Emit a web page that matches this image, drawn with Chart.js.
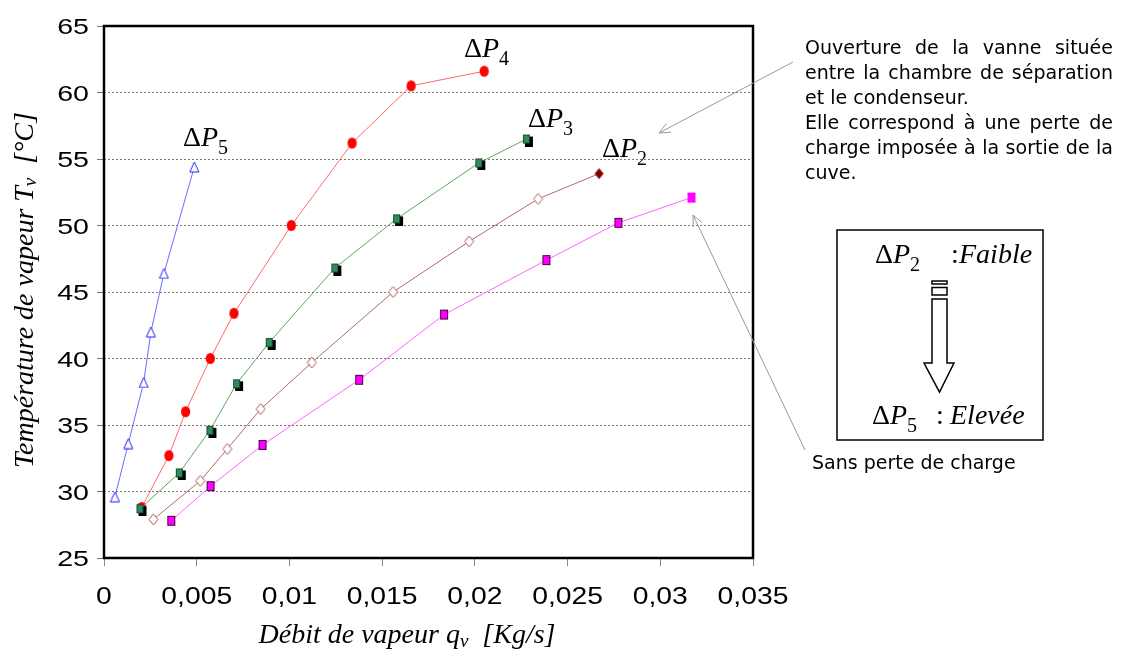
<!DOCTYPE html>
<html>
<head>
<meta charset="utf-8">
<script src="https://cdn.jsdelivr.net/npm/chart.js@4/dist/chart.umd.min.js"></script>
<style>
  html, body { margin: 0; padding: 0; background: #fff; }
  canvas { display: block; }
</style>
</head>
<body>
<canvas id="graphique" width="1128" height="659"></canvas>
<script>
// === DONNÉES ===
const xTicks = [0, 0.005, 0.01, 0.015, 0.02, 0.025, 0.03, 0.035];
const yTicks = [25, 30, 35, 40, 45, 50, 55, 60, 65];

// ΔP5 (triangles bleus)
const dp5X = [0.00059, 0.00131, 0.00214, 0.00253, 0.00323, 0.00487];
const dp5Y = [29.6, 33.6, 38.2, 42.0, 46.4, 54.4];
// ΔP4 (ronds rouges)
const dp4X = [0.00203, 0.0035, 0.0044, 0.00573, 0.00701, 0.0101, 0.01338, 0.01656, 0.0205];
const dp4Y = [28.8, 32.7, 36.0, 40.0, 43.4, 50.0, 56.2, 60.5, 61.6];
// ΔP3 (carrés verts)
const dp3X = [0.00194, 0.00406, 0.00571, 0.00715, 0.00891, 0.01245, 0.01578, 0.02021, 0.02278];
const dp3Y = [28.7, 31.4, 34.6, 38.1, 41.2, 46.8, 50.5, 54.7, 56.5];
// ΔP2 (losanges)
const dp2X = [0.00266, 0.00519, 0.00665, 0.00845, 0.01121, 0.01559, 0.01969, 0.02341, 0.0267];
const dp2Y = [27.9, 30.8, 33.2, 36.2, 39.7, 45.0, 48.8, 52.0, 53.9];
// sans perte de charge (carrés magenta)
const sansX = [0.00363, 0.00575, 0.00855, 0.01376, 0.01834, 0.02386, 0.02774, 0.03168];
const sansY = [27.8, 30.4, 33.5, 38.4, 43.3, 47.4, 50.2, 52.1];

const points = (xs, ys) => xs.map((x, i) => ({ x: x, y: ys[i] }));

// === MARQUEURS (petits canvas) ===
function marqueur(w, h, dessin) {
  const c = document.createElement('canvas');
  c.width = w; c.height = h;
  dessin(c.getContext('2d'));
  return c;
}
const triBleu = marqueur(11, 12, g => {
  g.beginPath(); g.moveTo(5.5, 1); g.lineTo(10, 11); g.lineTo(1, 11); g.closePath();
  g.fillStyle = '#fff'; g.fill(); g.strokeStyle = '#2020ff'; g.lineWidth = 1; g.stroke();
});
const rondRouge = marqueur(11, 13, g => {
  g.beginPath(); g.ellipse(5.5, 6.5, 4.6, 5.6, 0, 0, 2 * Math.PI);
  g.fillStyle = '#ff0000'; g.fill();
});
const carreVert = marqueur(15, 15, g => {
  g.fillStyle = '#000'; g.fillRect(6, 5, 8, 10);
  g.fillStyle = '#2e8b5c'; g.fillRect(4, 3, 7, 9);
  g.strokeStyle = '#1b4a33'; g.lineWidth = 1; g.strokeRect(4.5, 3.5, 6, 8);
});
const losangeVide = marqueur(11, 13, g => {
  g.beginPath(); g.moveTo(5.5, 1); g.lineTo(10, 6.5); g.lineTo(5.5, 12); g.lineTo(1, 6.5); g.closePath();
  g.fillStyle = '#fff'; g.fill(); g.strokeStyle = '#a85a5a'; g.lineWidth = 1; g.stroke();
});
const losangePlein = marqueur(11, 13, g => {
  g.beginPath(); g.moveTo(5.5, 1); g.lineTo(10, 6.5); g.lineTo(5.5, 12); g.lineTo(1, 6.5); g.closePath();
  g.fillStyle = '#800000'; g.fill();
});
const carreMagenta = marqueur(10, 12, g => {
  g.fillStyle = '#ff00ff'; g.fillRect(1, 1, 8, 10);
  g.strokeStyle = '#4a004a'; g.lineWidth = 1; g.strokeRect(1.5, 1.5, 7, 9);
});
const carreMagentaClair = marqueur(10, 12, g => {
  g.fillStyle = '#ff00ff'; g.fillRect(1, 1, 8, 10);
});

// === OUTILS DE TEXTE ===
const serif = '"Liberation Serif", "Times New Roman", serif';

// dessine une suite de morceaux {t, f, dy} à partir de x
function morceaux(ctx, liste, x, y) {
  let cx = x;
  liste.forEach(m => {
    ctx.font = m.f;
    ctx.fillText(m.t, cx, y + (m.dy || 0));
    cx += ctx.measureText(m.t).width;
  });
  return cx;
}
function largeurMorceaux(ctx, liste) {
  return liste.reduce((s, m) => { ctx.font = m.f; return s + ctx.measureText(m.t).width; }, 0);
}
function texteEtire(ctx, txt, x, y, k) {
  ctx.save();
  ctx.translate(x, y);
  ctx.scale(k, 1);
  ctx.fillText(txt, 0, 0);
  ctx.restore();
}
function ligneJustifiee(ctx, txt, x, y, largeur) {
  const mots = txt.split(' ');
  const total = mots.reduce((s, m) => s + ctx.measureText(m).width, 0);
  const esp = (largeur - total) / (mots.length - 1);
  let cx = x;
  mots.forEach(m => { ctx.fillText(m, cx, y); cx += ctx.measureText(m).width + esp; });
}
function fleche(ctx, x1, y1, x2, y2) {
  const a = Math.atan2(y2 - y1, x2 - x1);
  ctx.beginPath();
  ctx.moveTo(x1, y1); ctx.lineTo(x2, y2);
  ctx.moveTo(x2 - 12 * Math.cos(a - 0.42), y2 - 12 * Math.sin(a - 0.42));
  ctx.lineTo(x2, y2);
  ctx.lineTo(x2 - 12 * Math.cos(a + 0.42), y2 - 12 * Math.sin(a + 0.42));
  ctx.stroke();
}
function deltaP(ctx, n, x, y) {
  return morceaux(ctx, [
    { t: 'Δ', f: '28px ' + serif },
    { t: 'P', f: 'italic 28px ' + serif },
    { t: n, f: '20px ' + serif, dy: 8 }
  ], x, y);
}
const formatX = v => v === 0 ? '0' : String(+v.toFixed(3)).replace('.', ',');

// === CADRE DU GRAPHIQUE ===
const cadre = {
  id: 'cadre',
  beforeDatasetsDraw(chart) {
    const { ctx, chartArea: a } = chart;
    ctx.save();
    ctx.strokeStyle = '#000';
    ctx.lineWidth = 2.5;
    ctx.strokeRect(a.left, a.top, a.right - a.left, a.bottom - a.top);
    ctx.restore();
  }
};

// === ÉTIQUETTES, TITRES ET ANNOTATIONS ===
const annotations = {
  id: 'annotations',
  afterDraw(chart) {
    const ctx = chart.ctx;
    const sx = chart.scales.x, sy = chart.scales.y;
    ctx.save();
    ctx.fillStyle = '#000';

    // graduations
    ctx.font = '24px "Liberation Sans", Arial, sans-serif';
    ctx.textAlign = 'center';
    sx.ticks.forEach(t => texteEtire(ctx, formatX(t.value), sx.getPixelForValue(t.value), 604, 1.18));
    ctx.font = '22px "Liberation Sans", Arial, sans-serif';
    ctx.textAlign = 'right';
    sy.ticks.forEach(t => texteEtire(ctx, String(t.value), 89, sy.getPixelForValue(t.value) + 8, 1.3));
    ctx.textAlign = 'left';

    // titre axe x
    const titreX = [
      { t: 'Débit de vapeur ', f: 'italic 28px ' + serif },
      { t: 'q', f: 'italic 28px ' + serif },
      { t: 'v', f: 'italic 19px ' + serif, dy: 4 },
      { t: '  [Kg/s]', f: 'italic 28px ' + serif }
    ];
    morceaux(ctx, titreX, 407 - largeurMorceaux(ctx, titreX) / 2, 643);

    // titre axe y
    const titreY = [
      { t: 'Température de vapeur ', f: 'italic 28px ' + serif },
      { t: 'T', f: 'italic 28px ' + serif },
      { t: 'v', f: 'italic 19px ' + serif, dy: 3 },
      { t: '  [°C]', f: 'italic 28px ' + serif }
    ];
    ctx.save();
    ctx.translate(33, 290);
    ctx.rotate(-Math.PI / 2);
    morceaux(ctx, titreY, -largeurMorceaux(ctx, titreY) / 2, 0);
    ctx.restore();

    // noms des courbes
    deltaP(ctx, '5', 183, 146);
    deltaP(ctx, '4', 464, 57);
    deltaP(ctx, '3', 528, 127);
    deltaP(ctx, '2', 602, 157);

    // texte explicatif
    ctx.font = '19px "DejaVu Sans", Verdana, sans-serif';
    const lignes = [
      ['Ouverture de la vanne située', true],
      ['entre la chambre de séparation', true],
      ['et le condenseur.', false],
      ['Elle correspond à une perte de', true],
      ['charge imposée à la sortie de la', true],
      ['cuve.', false]
    ];
    lignes.forEach((l, i) => {
      const y = 54 + 25 * i;
      if (l[1]) ligneJustifiee(ctx, l[0], 805, y, 308);
      else ctx.fillText(l[0], 805, y);
    });
    ctx.fillText('Sans perte de charge', 812, 469);

    // flèches grises
    ctx.strokeStyle = '#999';
    ctx.lineWidth = 1;
    fleche(ctx, 793, 62, 659, 133);
    fleche(ctx, 805, 450, 693, 215);

    // encadré ΔP2 -> ΔP5
    ctx.strokeStyle = '#000';
    ctx.lineWidth = 1.5;
    ctx.strokeRect(837, 230, 206, 210);
    deltaP(ctx, '2', 875, 263);
    ctx.font = '28px ' + serif; ctx.fillText(':', 951, 263);
    ctx.font = 'italic 28px ' + serif; ctx.fillText('Faible', 959, 263);
    deltaP(ctx, '5', 872, 424);
    ctx.font = '28px ' + serif; ctx.fillText(':', 936, 424);
    ctx.font = 'italic 28px ' + serif; ctx.fillText('Elevée', 950, 424);

    // flèche creuse
    ctx.lineWidth = 1.5;
    ctx.strokeRect(932, 281, 15, 3);
    ctx.strokeRect(932, 287.5, 15, 7.5);
    ctx.beginPath();
    ctx.moveTo(932, 299); ctx.lineTo(947, 299); ctx.lineTo(947, 363);
    ctx.lineTo(954, 363); ctx.lineTo(939.5, 392); ctx.lineTo(924, 363);
    ctx.lineTo(932, 363); ctx.closePath();
    ctx.stroke();

    ctx.restore();
  }
};

// === GRAPHIQUE ===
const dernier = n => c => c.dataIndex === n - 1;

new Chart(document.getElementById('graphique'), {
  type: 'scatter',
  data: {
    datasets: [
      {
        label: 'ΔP3', data: points(dp3X, dp3Y), showLine: true,
        borderColor: '#5aa85a', borderWidth: 1, pointStyle: carreVert, pointRadius: 6
      },
      {
        label: 'ΔP4', data: points(dp4X, dp4Y), showLine: true,
        borderColor: '#ff6a6a', borderWidth: 1, pointStyle: rondRouge, pointRadius: 6
      },
      {
        label: 'ΔP5', data: points(dp5X, dp5Y), showLine: true,
        borderColor: '#6a6aff', borderWidth: 1, pointStyle: triBleu, pointRadius: 6
      },
      {
        label: 'ΔP2', data: points(dp2X, dp2Y), showLine: true,
        borderColor: '#b06a6a', borderWidth: 1, pointRadius: 6,
        pointStyle: c => dernier(dp2X.length)(c) ? losangePlein : losangeVide
      },
      {
        label: 'Sans perte de charge', data: points(sansX, sansY), showLine: true,
        borderColor: '#ff66ff', borderWidth: 1, pointRadius: 6,
        pointStyle: c => dernier(sansX.length)(c) ? carreMagentaClair : carreMagenta
      }
    ]
  },
  options: {
    responsive: false,
    devicePixelRatio: 1,
    animation: false,
    layout: { padding: { left: 0, top: 26, right: 375, bottom: 0 } },
    plugins: { legend: { display: false }, tooltip: { enabled: false } },
    scales: {
      x: {
        type: 'linear', min: 0, max: 0.035,
        afterBuildTicks: s => { s.ticks = xTicks.map(v => ({ value: v })); },
        afterFit: s => { s.height = 101; },
        ticks: { display: false },
        border: { display: false },
        grid: { drawOnChartArea: false, drawTicks: true, tickLength: 8, tickColor: '#888', color: '#888', tickBorderDash: [] }
      },
      y: {
        type: 'linear', min: 25, max: 65,
        afterBuildTicks: s => { s.ticks = yTicks.map(v => ({ value: v })); },
        afterFit: s => { s.width = 104; },
        ticks: { display: false },
        border: { display: false, dash: [2, 2] },
        grid: {
          drawTicks: true, tickLength: 7, tickColor: '#777', tickBorderDash: [],
          color: c => (c.tick && (c.tick.value === 25 || c.tick.value === 65)) ? 'rgba(0,0,0,0)' : '#7a7a7a'
        }
      }
    }
  },
  plugins: [cadre, annotations]
});
</script>
</body>
</html>
